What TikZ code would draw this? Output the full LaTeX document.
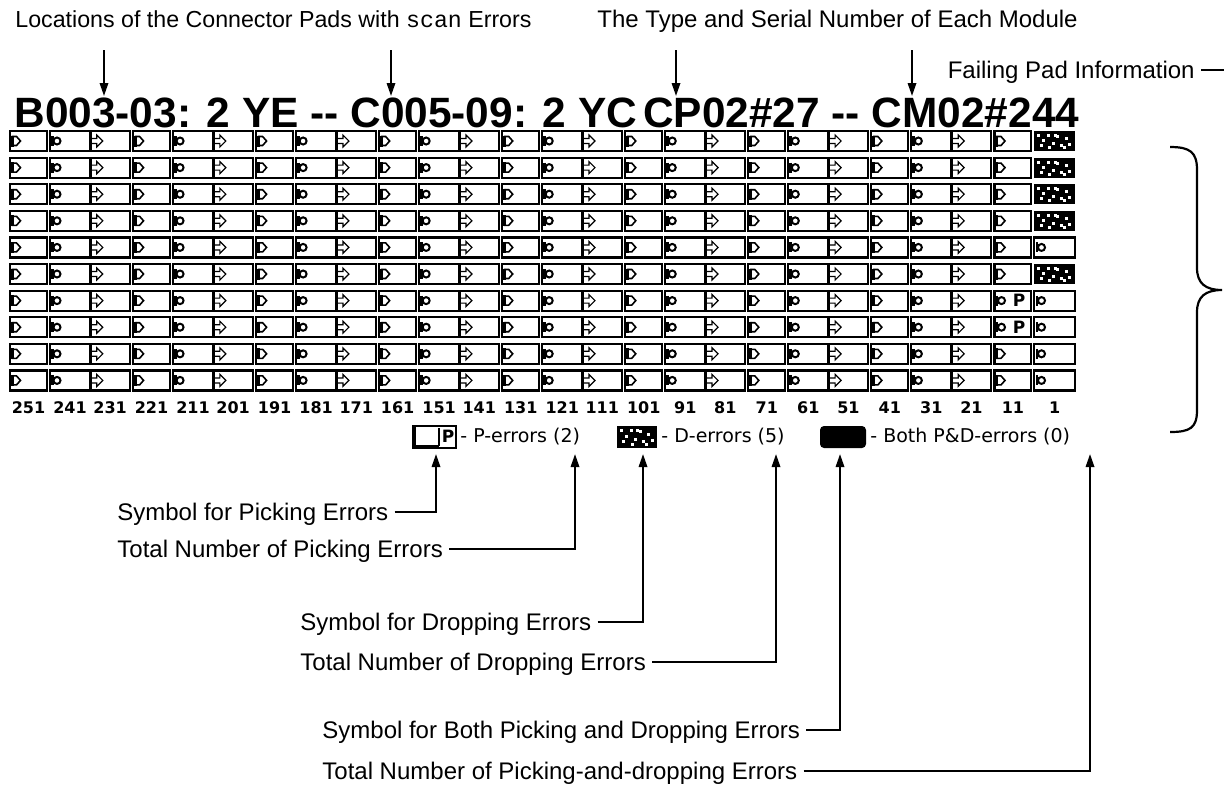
\documentclass[tikz,border=0pt]{standalone}
\usepackage{fontspec}
\setmainfont{Liberation Sans}
\setmonofont{Liberation Mono}
\newfontfamily\pixfont{DejaVu Sans}
\usetikzlibrary{arrows.meta}
% pad glyphs (x = left, y = vertical centre)
\newcommand\padD[2]{%
  \draw[line width=0.8pt,fill=white] (#1,#2-4.5) -- (#1+4,#2-4.5) -- (#1+8,#2) -- (#1+4,#2+4.5) -- (#1,#2+4.5) -- cycle;
  \draw[line width=1.4pt] (#1,#2-5.5) -- (#1,#2+5.5);}
\newcommand\padO[2]{%
  \draw[line width=1pt] (#1+5.5,#2) circle (3.5);
  \draw[line width=1.4pt] (#1+1,#2-5) -- (#1+1,#2+5);}
\newcommand\padA[2]{%
  \draw[line width=0.6pt] (#1,#2-2.5) -- (#1+5,#2-2.5) -- (#1+5,#2-6) -- (#1+11,#2) -- (#1+5,#2+6) -- (#1+5,#2+2.5) -- (#1,#2+2.5);}
\newcommand\padDark[4]{% x0, y0, w, h
  \fill[black] (#1,#2) rectangle (#1+#3,#2+#4);
  \foreach \dx/\dy in {3/3,9/8,14/3,6/13,19/11,24/4,28/13,33/6,37/12,15/15,31/15,21/3}{%
    \fill[white] (#1+\dx*#3/44,#2+\dy*#4/20) rectangle (#1+\dx*#3/44+3,#2+\dy*#4/20+3);}}
\begin{document}
\begin{tikzpicture}[x=0.5pt,y=-0.5pt,
  annot/.style={inner sep=0pt, anchor=base west, font=\fontsize{12pt}{14pt}\selectfont},
  ttl/.style={inner sep=0pt, anchor=base west, font=\fontsize{21.2pt}{24pt}\selectfont\bfseries},
  lbl/.style={inner sep=0pt, font=\pixfont\bfseries\fontsize{8pt}{10pt}\selectfont},
  leg/.style={inner sep=0pt, anchor=west, font=\pixfont\fontsize{9.5pt}{11pt}\selectfont},
  pch/.style={inner sep=0pt, font=\pixfont\bfseries\fontsize{8.5pt}{10pt}\selectfont},
  cellbox/.style={line width=1.1pt, draw=black, fill=white},
  conn/.style={line width=1pt},
  arr/.style={line width=1pt, -{Triangle[length=6.5pt,width=4.2pt]}},
]
\useasboundingbox (0,0) rectangle (1224,789);

% ---- top annotations
\node[annot, font=\fontsize{11.6pt}{14pt}\selectfont] (locs) at (15,27) {Locations of the Connector Pads with \texttt{scan} Errors};
\node[annot] (types) at (597,27) {The Type and Serial Number of Each Module};
\node[annot, anchor=base east] (fail) at (1195,78) {Failing Pad Information};
\coordinate (failEnd) at (1224,70);
\draw[conn] ([shift={(6,-8)}]fail.base east) -- (failEnd);

\coordinate (a1s) at (104,50);  \coordinate (a1e) at (104,96);
\coordinate (a2s) at (391,50);  \coordinate (a2e) at (391,96);
\coordinate (a3s) at (676,50);  \coordinate (a3e) at (676,96);
\coordinate (a4s) at (912,50);  \coordinate (a4e) at (912,96);
\foreach \k in {1,...,4}{\draw[arr] (a\k s) -- (a\k e);}

% ---- title
\node[ttl] (title) at (14,127) {B003-03: 2 YE -{}- C005-09: 2 YC\hspace{3pt}CP02\#27 -{}- CM02\#244};

% ---- grid
\def\P{123.05}
\foreach \r in {0,...,9}{
  \pgfmathsetmacro\yt{131+26.6*\r}
  \pgfmathsetmacro\yb{\yt+20}
  \pgfmathsetmacro\yc{\yt+10}
  \foreach \g in {0,...,7}{
    \pgfmathsetmacro\gx{10+\P*\g}
    \draw[cellbox] (\gx,\yt) rectangle (\gx+36.9,\yb);
    \padD{\gx+2.5}{\yc}
    \draw[cellbox] (\gx+39.7,\yt) rectangle (\gx+120,\yb);
    \padO{\gx+41.5}{\yc}
    \draw[line width=1.5pt] (\gx+80.3,\yt) -- (\gx+80.3,\yb);
    \padA{\gx+81.8}{\yc}
  }
  % column 11
  \draw[cellbox] (994.4,\yt) rectangle (1031.3,\yb);
  \ifnum\r=6
    \padO{996}{\yc}\node[pch] (pP\r) at (1019,\yc) {P};
  \else\ifnum\r=7
    \padO{996}{\yc}\node[pch] (pP\r) at (1019,\yc) {P};
  \else
    \padD{997}{\yc}
  \fi\fi
  % column 1
  \ifnum\r=4
    \draw[cellbox] (1034,\yt) rectangle (1075,\yb);\padO{1036}{\yc}
  \else\ifnum\r>5
    \draw[cellbox] (1034,\yt) rectangle (1075,\yb);\padO{1036}{\yc}
  \else
    \padDark{1034}{\yt}{41}{20}
  \fi\fi
}

% ---- column labels
\foreach \i in {0,...,25}{
  \pgfmathtruncatemacro\val{251-10*\i}
  \pgfmathtruncatemacro\gg{floor(\i/3)}
  \pgfmathtruncatemacro\rr{mod(\i,3)}
  \ifnum\i<24
    \ifcase\rr \def\off{18.5}\or \def\off{60}\or \def\off{100.1}\fi
    \pgfmathsetmacro\lx{10+\P*\gg+\off}
  \else
    \ifnum\i=24 \def\lx{1012.9}\else \def\lx{1054.7}\fi
  \fi
  \node[lbl] (lb\i) at (\lx,408) {\val};
}

% ---- legend
\draw[line width=1.1pt, fill=white] (413,426) rectangle (456,448);
\draw[line width=1.6pt] (414,427) -- (414,447) -- (439,447);
\draw[line width=0.6pt] (439,428) -- (439,446);
\node[pch] (legPsym) at (448,436) {P};
\node[leg] (legP) at (460,437) {- P-errors (2)};
\padDark{617}{426}{40}{22}
\node[leg] (legD) at (661,437) {- D-errors (5)};
\fill[black, rounded corners=2pt] (820,426) rectangle (866,448);
\node[leg] (legB) at (870,437) {- Both P\&D-errors (0)};

% ---- brace
\draw[line width=1.1pt] (1170,147) .. controls (1190,147) and (1197,152) .. (1197,170)
  -- (1197,268) .. controls (1197,283) and (1205,290) .. (1222,290)
  .. controls (1205,290) and (1197,297) .. (1197,312)
  -- (1197,410) .. controls (1197,428) and (1190,432) .. (1170,432);

% ---- bottom annotations
\node[annot] (symP) at (117,520.5) {Symbol for Picking Errors};
\node[annot] (totP) at (117,557.5) {Total Number of Picking Errors};
\node[annot] (symD) at (300,630.5) {Symbol for Dropping Errors};
\node[annot] (totD) at (300,670.5) {Total Number of Dropping Errors};
\node[annot] (symB) at (322,738.5) {Symbol for Both Picking and Dropping Errors};
\node[annot] (totB) at (322,779.5) {Total Number of Picking-and-dropping Errors};

\coordinate (tsymP) at (436,454);
\coordinate (ttotP) at (575,454);
\coordinate (tsymD) at (643,454);
\coordinate (ttotD) at (776,454);
\coordinate (tsymB) at (840,454);
\coordinate (ttotB) at (1090,454);
\foreach \n in {symP,totP,symD,totD,symB,totB}{
  \draw[arr] ([shift={(6,-8.5)}]\n.base east) -| (t\n);
}
\end{tikzpicture}
\end{document}
